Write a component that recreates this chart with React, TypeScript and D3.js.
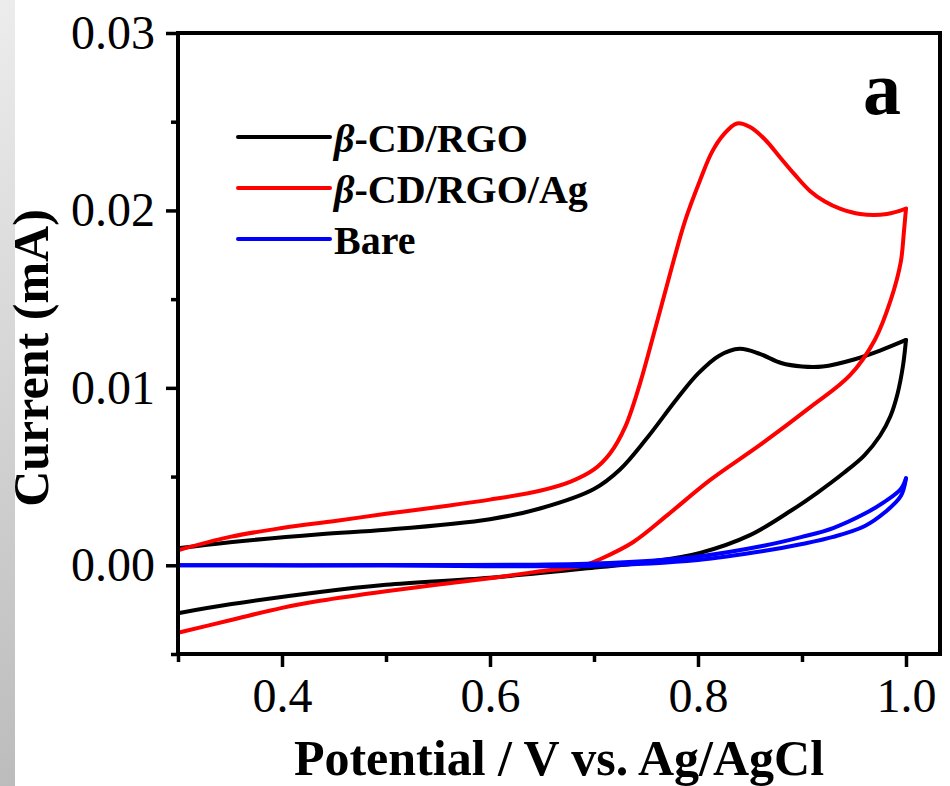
import { useEffect, useRef } from 'react'
import { axisBottom, axisLeft, curveCatmullRom, format, line, scaleLinear, select } from 'd3'

// potentials (V) and currents (mA)
const rgoFwdE = [0.3, 0.35, 0.4365, 0.5, 0.6, 0.648, 0.7, 0.725, 0.75, 0.78, 0.8, 0.82, 0.84, 0.86, 0.88, 0.9, 0.92, 0.95, 0.975, 1.0]
const rgoFwdI = [0.00096, 0.0013, 0.00175, 0.002, 0.0026, 0.0032, 0.0043, 0.0054, 0.0071, 0.0094, 0.0108, 0.0118, 0.0122, 0.0119, 0.0114, 0.0112, 0.0112, 0.0116, 0.0121, 0.0127]
const rgoRevE = [1.0, 0.997, 0.992, 0.985, 0.975, 0.96, 0.94, 0.915, 0.89, 0.85, 0.802, 0.754, 0.706, 0.6, 0.5, 0.4365, 0.35, 0.3]
const rgoRevI = [0.0127, 0.0112, 0.0097, 0.0084, 0.0073, 0.0062, 0.0052, 0.0041, 0.0031, 0.0017, 0.0007, 0.0002, -0.0001, -0.0007, -0.0011, -0.0015, -0.0022, -0.0027]

const agFwdE = [0.3, 0.35, 0.4, 0.451, 0.5, 0.552, 0.6, 0.648, 0.677, 0.7, 0.7154, 0.73, 0.744, 0.7587, 0.773, 0.7875, 0.802, 0.8135, 0.825, 0.8375, 0.85, 0.8644, 0.8788, 0.8933, 0.9077, 0.922, 0.9365, 0.9558, 0.9817, 1.0]
const agFwdI = [0.00085, 0.0016, 0.0021, 0.0025, 0.0029, 0.0033, 0.0037, 0.0042, 0.0047, 0.0054, 0.0063, 0.0078, 0.0102, 0.0133, 0.0164, 0.0194, 0.0217, 0.0233, 0.0243, 0.0249, 0.0247, 0.024, 0.023, 0.022, 0.0211, 0.0205, 0.0201, 0.0198, 0.0198, 0.0201]
const agRevE = [1.0, 0.998, 0.995, 0.9856, 0.97, 0.946, 0.9077, 0.86, 0.8115, 0.77, 0.7375, 0.7058, 0.691, 0.648, 0.6, 0.5, 0.4365, 0.4, 0.35, 0.3]
const agRevI = [0.0201, 0.0188, 0.0171, 0.015, 0.0127, 0.0107, 0.0089, 0.0068, 0.0048, 0.0028, 0.0013, 0.00034, 0, -0.00034, -0.00073, -0.00146, -0.002, -0.0024, -0.0031, -0.0038]

const bareFwdE = [0.3, 0.5, 0.7, 0.8, 0.863, 0.9, 0.93, 0.96, 0.98, 0.995, 1.0]
const bareFwdI = [0, 0.00002, 0.0001, 0.0005, 0.0011, 0.0016, 0.0021, 0.0029, 0.0036, 0.0043, 0.0049]
const bareRevE = [1.0, 0.995, 0.98, 0.96, 0.93, 0.9, 0.863, 0.8, 0.7, 0.5, 0.3]
const bareRevI = [0.0049, 0.0039, 0.003, 0.0022, 0.0016, 0.0012, 0.0008, 0.0003, -0.00002, -0.00001, 0]

const seriesNames = ['β-CD/RGO', 'β-CD/RGO/Ag', 'Bare']
const seriesColors = ['#000000', '#ff0000', '#0000ff']

const xMajor = [0.4, 0.6, 0.8, 1.0]
const xMinor = [0.3, 0.5, 0.7, 0.9]
const yMajor = [0.0, 0.01, 0.02, 0.03]
const yMinor = [-0.005, 0.005, 0.015, 0.025]

const W = 950
const H = 786
const plot = { left: 178, right: 940, top: 33, bottom: 654 }
const serif = '"Liberation Serif", "Times New Roman", serif'

const zip = (es: number[], is: number[]) => es.map((e, i) => [e, is[i]] as [number, number])

export default function App() {
  const xAxisRef = useRef<SVGGElement>(null)
  const xMinorRef = useRef<SVGGElement>(null)
  const yAxisRef = useRef<SVGGElement>(null)
  const yMinorRef = useRef<SVGGElement>(null)

  const x = scaleLinear().domain([0.3, 1.0327]).range([plot.left, plot.right])
  const y = scaleLinear().domain([-0.005, 0.03]).range([plot.bottom, plot.top])

  const path = line<[number, number]>()
    .x((d) => x(d[0]))
    .y((d) => y(d[1]))
    .curve(curveCatmullRom.alpha(0.5))

  const series = [
    [zip(rgoFwdE, rgoFwdI), zip(rgoRevE, rgoRevI)],
    [zip(agFwdE, agFwdI), zip(agRevE, agRevI)],
    [zip(bareFwdE, bareFwdI), zip(bareRevE, bareRevI)],
  ]

  useEffect(() => {
    const style = (g: any) => {
      g.select('.domain').remove()
      g.selectAll('.tick line').attr('stroke', '#000').attr('stroke-width', 3.5)
      g.selectAll('.tick text')
        .attr('fill', '#000')
        .style('font-family', serif)
        .style('font-size', '48px')
    }
    if (xAxisRef.current)
      select(xAxisRef.current)
        .call(axisBottom(x).tickValues(xMajor).tickFormat(format('.1f')).tickSize(13).tickPadding(11))
        .call(style)
    if (xMinorRef.current)
      select(xMinorRef.current)
        .call(axisBottom(x).tickValues(xMinor).tickFormat(() => '').tickSize(8))
        .call(style)
    if (yAxisRef.current)
      select(yAxisRef.current)
        .call(axisLeft(y).tickValues(yMajor).tickFormat(format('.2f')).tickSize(12).tickPadding(11))
        .call(style)
    if (yMinorRef.current)
      select(yMinorRef.current)
        .call(axisLeft(y).tickValues(yMinor).tickFormat(() => '').tickSize(7))
        .call(style)
  }, [])

  return (
    <svg
      width={W}
      height={H}
      viewBox={`0 0 ${W} ${H}`}
      style={{ position: 'absolute', left: 0, top: 0, background: '#fff' }}
    >
      <defs>
        <linearGradient id="edge" x1="0" y1="0" x2="0" y2="1">
          <stop offset="0" stopColor="#ececec" />
          <stop offset="1" stopColor="#bcbcbc" />
        </linearGradient>
      </defs>
      <rect x={0} y={0} width={15} height={H} fill="url(#edge)" />

      {series.map((branches, i) =>
        branches.map((pts, j) => (
          <path
            key={`${i}-${j}`}
            d={path(pts) ?? ''}
            fill="none"
            stroke={seriesColors[i]}
            strokeWidth={4}
            strokeLinejoin="round"
            strokeLinecap="round"
          />
        )),
      )}

      <rect
        x={plot.left}
        y={plot.top}
        width={plot.right - plot.left}
        height={plot.bottom - plot.top}
        fill="none"
        stroke="#000"
        strokeWidth={4}
      />

      <g ref={xAxisRef} transform={`translate(0, ${plot.bottom})`} />
      <g ref={xMinorRef} transform={`translate(0, ${plot.bottom})`} />
      <g ref={yAxisRef} transform={`translate(${plot.left}, 0)`} />
      <g ref={yMinorRef} transform={`translate(${plot.left}, 0)`} />

      {seriesNames.map((name, i) => {
        const ly = 137 + i * 51
        const isBeta = name.startsWith('β')
        return (
          <g key={name}>
            <line x1={238} x2={330} y1={ly} y2={ly} stroke={seriesColors[i]} strokeWidth={4} strokeLinecap="round" />
            <text x={334} y={ly + 15} fontFamily={serif} fontWeight="bold" fontSize={40} fill="#000">
              {isBeta ? (
                <>
                  <tspan fontStyle="italic">β</tspan>
                  {name.slice(1)}
                </>
              ) : (
                name
              )}
            </text>
          </g>
        )
      })}

      <text x={901} y={114} textAnchor="end" fontFamily={serif} fontWeight="bold" fontSize={76} fill="#000">
        a
      </text>

      <text
        x={(plot.left + plot.right) / 2}
        y={775}
        textAnchor="middle"
        fontFamily={serif}
        fontWeight="bold"
        fontSize={50}
        fill="#000"
      >
        Potential / V vs. Ag/AgCl
      </text>
      <text
        transform="translate(48, 358) rotate(-90)"
        textAnchor="middle"
        fontFamily={serif}
        fontWeight="bold"
        fontSize={50}
        fill="#000"
      >
        Current (mA)
      </text>
    </svg>
  )
}
